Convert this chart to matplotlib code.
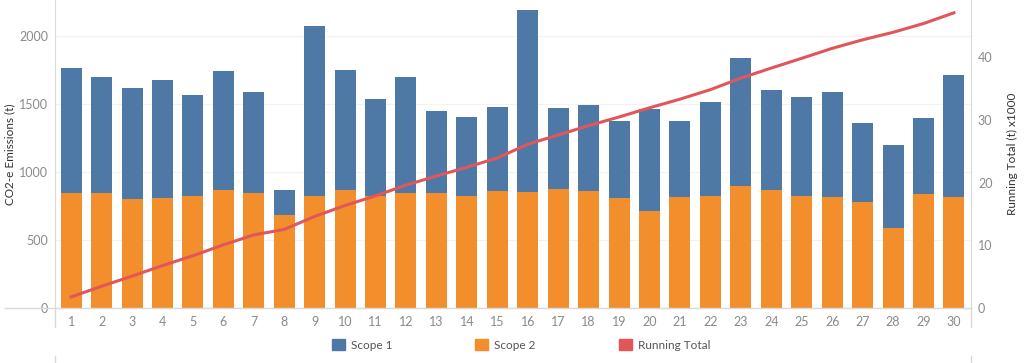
import numpy as np
import matplotlib
matplotlib.use("Agg")
import matplotlib.pyplot as plt
from matplotlib.patches import Patch
from matplotlib.lines import Line2D

plt.rcParams['font.family'] = ['Lato', 'DejaVu Sans']

days = list(range(1, 31))
scope2 = [846, 846, 799, 809, 824, 868, 846, 686, 824, 865,
          826, 843, 843, 824, 860, 851, 875, 860, 809, 716,
          816, 826, 897, 870, 821, 816, 779, 591, 841, 816]
totals = [1767, 1696, 1620, 1676, 1569, 1740, 1588, 870, 2074, 1748,
          1537, 1701, 1451, 1402, 1476, 2191, 1473, 1495, 1377, 1463,
          1377, 1517, 1841, 1605, 1551, 1588, 1360, 1196, 1397, 1716]
scope1 = [t - s for t, s in zip(totals, scope2)]
running_total = np.cumsum(totals) / 1000

blue = "#4e79a7"
orange = "#f28e2b"
red = "#e15759"
tick_col = "#8a8a8a"
line_col = "#d9d9d9"

fig = plt.figure(figsize=(10.24, 3.63), dpi=100)
ax = fig.add_axes([55 / 1024, 1 - 308 / 363, (971 - 55) / 1024, 308 / 363])

ax.bar(days, scope2, width=0.69, color=orange, zorder=2)
ax.bar(days, scope1, width=0.69, bottom=scope2, color=blue, zorder=2)

ax.set_xlim(0.47, 30.56)
ax.set_ylim(0, 2265)
ax.set_yticks([0, 500, 1000, 1500, 2000])
ax.set_xticks(days)
ax.grid(axis='y', color="#f2f2f2", linewidth=0.8, zorder=0)
for s in ['top', 'right', 'bottom']:
    ax.spines[s].set_visible(False)
ax.spines['left'].set_color(line_col)
ax.tick_params(axis='both', length=0, colors=tick_col, labelsize=9)
ax.tick_params(axis='x', pad=6)
ax.tick_params(axis='y', pad=5)
ax.set_ylabel("CO2-e Emissions (t)", fontsize=8.5, color="#333333")
ax.yaxis.set_label_coords((15 - 55) / 916, 0.5)

ax2 = ax.twinx()
ax2.plot(days, running_total, color=red, linewidth=2.2, zorder=3)
ax2.set_ylim(0, 49.1)
ax2.set_yticks([0, 10, 20, 30, 40])
for s in ['top', 'left', 'bottom']:
    ax2.spines[s].set_visible(False)
ax2.spines['right'].set_color(line_col)
ax2.tick_params(axis='y', length=0, colors=tick_col, labelsize=9, pad=5)
ax2.set_ylabel("Running Total (t) x1000", fontsize=8.5, color="#333333")
ax2.yaxis.set_label_coords((1007 - 55) / 916, 0.5)

# baseline and axis extensions below the plot
fig.add_artist(Line2D([5 / 1024, 971 / 1024], [1 - 308 / 363] * 2, color=line_col, lw=1))
for xp in [55, 971]:
    fig.add_artist(Line2D([xp / 1024] * 2, [1 - 308 / 363, 1 - 327 / 363], color=line_col, lw=1))
    fig.add_artist(Line2D([xp / 1024] * 2, [1 - 356 / 363, 0], color=line_col, lw=1))

handles = [Patch(color=blue), Patch(color=orange), Patch(color=red)]
fig.legend(handles, ["Scope 1", "Scope 2", "Running Total"], loc='center',
           bbox_to_anchor=(521 / 1024, 1 - 345 / 363), ncol=3, frameon=False,
           fontsize=8.5, handlelength=1.1, handleheight=1.1, handletextpad=0.5,
           columnspacing=7.05, labelcolor="#555555")

fig.savefig("out.png", dpi=100)
